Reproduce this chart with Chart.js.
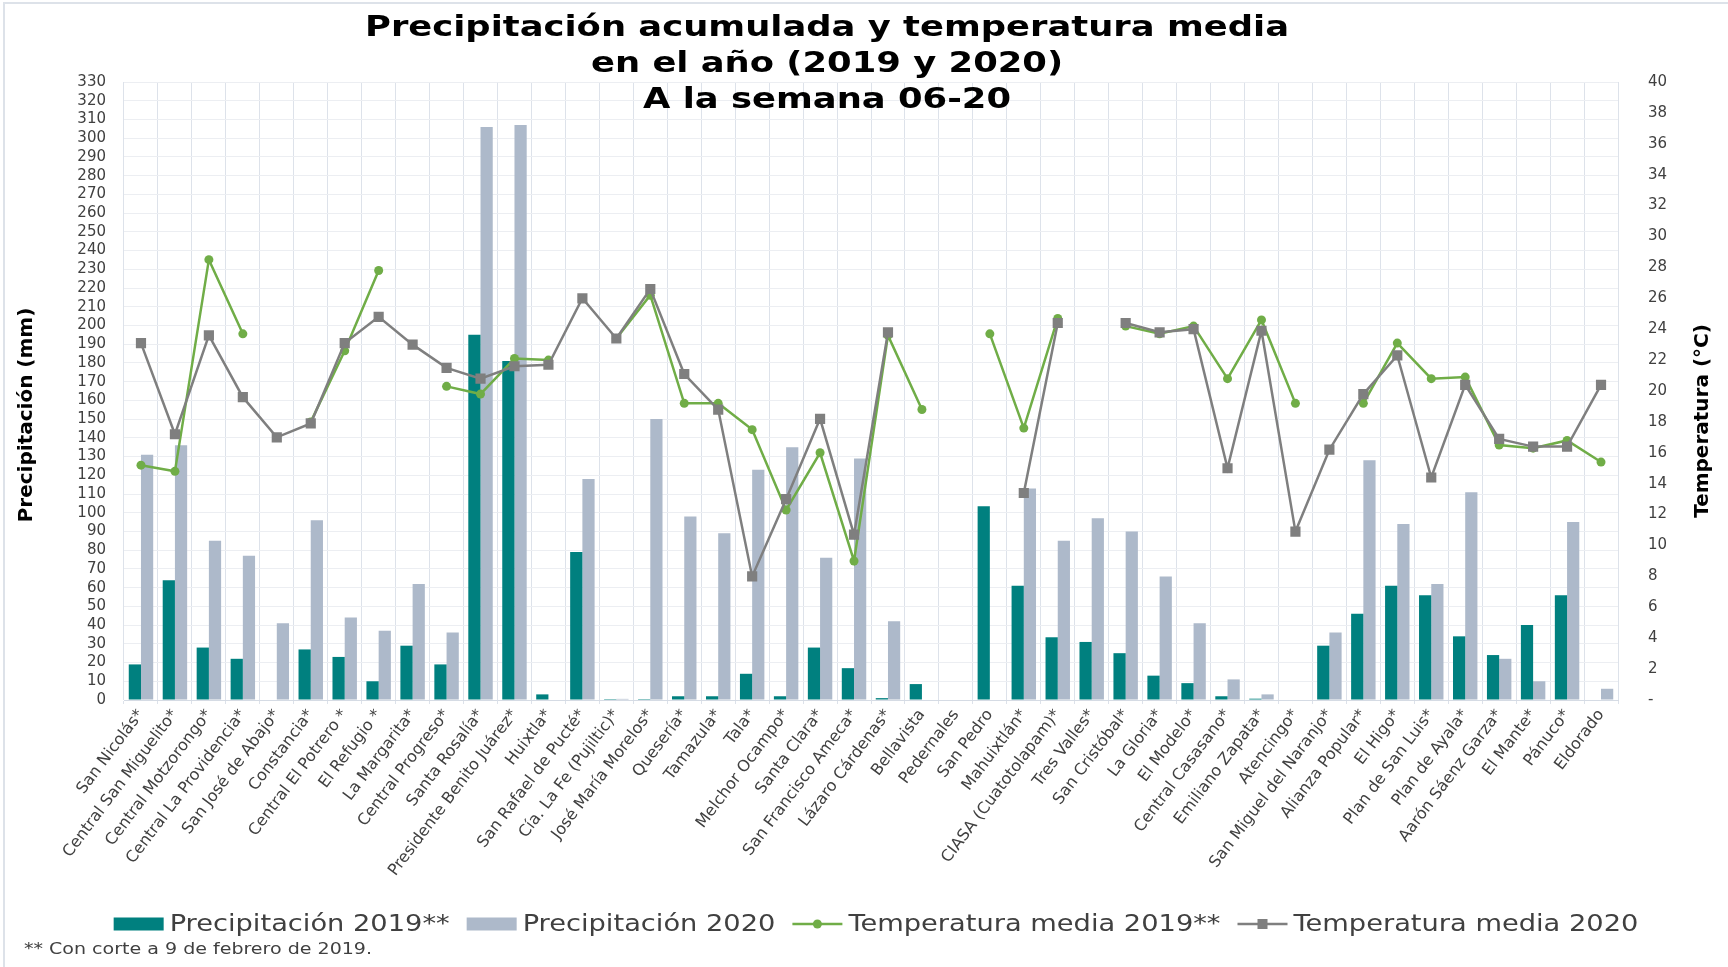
<!DOCTYPE html>
<html>
<head>
<meta charset="utf-8">
<script src="https://cdn.jsdelivr.net/npm/chart.js@4.4.1/dist/chart.umd.min.js"></script>
<style>
html,body{margin:0;padding:0;background:#fff;overflow:hidden}
#wrap{width:1728px;height:967px;position:relative}
canvas{display:block}
</style>
</head>
<body>
<div id="wrap"><canvas id="c" width="1728" height="967"></canvas></div>
<script>
// ---------- DATA ----------
const categories = ['San Nicolás*','Central San Miguelito*','Central Motzorongo*','Central La Providencia*','San José de Abajo*','Constancia*','Central El Potrero *','El Refugio *','La Margarita*','Central Progreso*','Santa Rosalía*','Presidente Benito Juárez*','Huixtla*','San Rafael de Pucté*','Cía. La Fe (Pujiltic)*','José María Morelos*','Quesería*','Tamazula*','Tala*','Melchor Ocampo*','Santa Clara*','San Francisco Ameca*','Lázaro Cárdenas*','Bellavista','Pedernales','San Pedro','Mahuixtlán*','CIASA (Cuatotolapam)*','Tres Valles*','San Cristóbal*','La Gloria*','El Modelo*','Central Casasano*','Emiliano Zapata*','Atencingo*','San Miguel del Naranjo*','Alianza Popular*','El Higo*','Plan de San Luis*','Plan de Ayala*','Aarón Sáenz Garza*','El Mante*','Pánuco*','Eldorado'];

const precip2019 = [19,64,28,22,null,27,23,10,29,19,195,181,3,79,0.5,0.5,2,2,14,2,28,17,1,8.5,null,103.5,61,33.5,31,25,13,9,2,0.7,null,29,46,61,56,34,24,40,56,null];
const precip2020 = [131,136,85,77,41,96,44,37,62,36,306,307,null,118,0.6,150,98,89,123,135,76,129,42,null,null,null,113,85,97,90,66,41,11,3,null,36,128,94,62,111,22,10,95,6];
const temp2019 = [15.2,14.8,28.5,23.7,null,18.0,22.6,27.8,null,20.3,19.8,22.1,22.0,null,23.4,26.2,19.2,19.2,17.5,12.3,16.0,9.0,23.6,18.8,null,23.7,17.6,24.7,null,24.2,23.7,24.2,20.8,24.6,19.2,null,19.2,23.1,20.8,20.9,16.5,16.3,16.8,15.4];
const temp2020 = [23.1,17.2,23.6,19.6,17.0,17.9,23.1,24.8,23.0,21.5,20.8,21.6,21.7,26.0,23.4,26.6,21.1,18.8,8.0,13.0,18.2,10.7,23.8,null,null,null,13.4,24.4,null,24.4,23.8,24.0,15.0,23.9,10.9,16.2,19.8,22.3,14.4,20.4,16.9,16.4,16.4,20.4];

const seriesLabels = ['Precipitación 2019**','Precipitación 2020','Temperatura media 2019**','Temperatura media 2020'];
const precipTicks = {min:0, max:330, step:10};
const tempTicks = {min:0, max:40, step:2};
const titleLines = ['Precipitación acumulada y temperatura media','en el año (2019 y 2020)','A la semana 06-20'];
const leftAxisTitle = 'Precipitación (mm)';
const rightAxisTitle = 'Temperatura (°C)';
const footnote = '** Con corte a 9 de febrero de 2019.';

// ---------- STYLE ----------
const C_TEAL = '#00807f', C_BLUEGRAY = '#adb9ca', C_GREEN = '#70ad47', C_GRAY = '#7f7f7f';
const FONT = '"DejaVu Sans", sans-serif';
const TEXT = '#404040';

function scaledText(ctx, text, x, y, sx) {
  ctx.save(); ctx.translate(x, y); ctx.scale(sx, 1); ctx.fillText(text, 0, 0); ctx.restore();
}

const decor = {
  id: 'decor',
  beforeDraw(chart) {
    const {ctx, width, height} = chart;
    ctx.save();
    ctx.fillStyle = '#fff';
    ctx.fillRect(0, 0, width, height);
    ctx.strokeStyle = '#dde2e9';
    ctx.lineWidth = 2;
    ctx.beginPath();
    ctx.moveTo(4, height); ctx.lineTo(4, 3); ctx.lineTo(width, 3);
    ctx.stroke();
    ctx.restore();
  },
  afterDraw(chart) {
    const ctx = chart.ctx;
    ctx.save();
    // Title
    ctx.fillStyle = '#000';
    ctx.font = 'bold 29px ' + FONT;
    ctx.textAlign = 'center';
    ctx.textBaseline = 'middle';
    const sx = 924 / ctx.measureText(titleLines[0]).width;
    const ty = [28, 64, 100];
    titleLines.forEach((t, i) => scaledText(ctx, t, 827, ty[i], sx));
    // Axis titles
    ctx.font = 'bold 20px ' + FONT;
    ctx.save(); ctx.translate(27, 415); ctx.rotate(-Math.PI / 2); ctx.fillText(leftAxisTitle, 0, 0); ctx.restore();
    ctx.save(); ctx.translate(1703, 421); ctx.rotate(-Math.PI / 2); ctx.fillText(rightAxisTitle, 0, 0); ctx.restore();

    // Legend
    ctx.font = '23px ' + FONT;
    ctx.textAlign = 'left';
    const ds = chart.data.datasets;
    const lsx = 280 / ctx.measureText(ds[0].label).width;
    const boxW = 50, gapT = 6, gapI = 17, ly = 924;
    const widths = ds.map(d => boxW + gapT + ctx.measureText(d.label).width * lsx);
    const total = widths.reduce((a, b) => a + b, 0) + gapI * (ds.length - 1);
    let x = 876 - total / 2;
    ds.forEach((d, i) => {
      if (d.type === 'line') {
        ctx.strokeStyle = d.borderColor; ctx.lineWidth = 2.5;
        ctx.beginPath(); ctx.moveTo(x, ly); ctx.lineTo(x + boxW, ly); ctx.stroke();
        ctx.fillStyle = d.borderColor;
        if (d.pointStyle === 'rect') { ctx.fillRect(x + boxW / 2 - 5, ly - 5, 10, 10); }
        else { ctx.beginPath(); ctx.arc(x + boxW / 2, ly, 4.5, 0, Math.PI * 2); ctx.fill(); }
      } else {
        ctx.fillStyle = d.backgroundColor;
        ctx.fillRect(x, ly - 6.5, boxW, 13);
      }
      ctx.fillStyle = TEXT;
      scaledText(ctx, d.label, x + boxW + gapT, ly + 1, lsx);
      x += widths[i] + gapI;
    });

    // Footnote
    ctx.font = '16px ' + FONT;
    ctx.fillStyle = TEXT;
    const fsx = 348 / ctx.measureText(footnote).width;
    scaledText(ctx, footnote, 24, 950, fsx);
    ctx.restore();
  }
};

new Chart(document.getElementById('c'), {
  type: 'bar',
  data: {
    labels: categories,
    datasets: [
      {type:'bar', label: seriesLabels[0], data: precip2019, backgroundColor: C_TEAL, yAxisID:'y', order: 2, categoryPercentage: 0.72, barPercentage: 1.0},
      {type:'bar', label: seriesLabels[1], data: precip2020, backgroundColor: C_BLUEGRAY, yAxisID:'y', order: 2, categoryPercentage: 0.72, barPercentage: 1.0},
      {type:'line', label: seriesLabels[2], data: temp2019, borderColor: C_GREEN, backgroundColor: C_GREEN, yAxisID:'y1', order: 1,
        borderWidth: 2.5, pointStyle:'circle', pointRadius: 4.5, pointBorderWidth: 0, tension: 0, spanGaps: false},
      {type:'line', label: seriesLabels[3], data: temp2020, borderColor: C_GRAY, backgroundColor: C_GRAY, yAxisID:'y1', order: 0,
        borderWidth: 2.5, pointStyle:'rect', pointRadius: 7.2, pointBorderWidth: 0, tension: 0, spanGaps: false}
    ]
  },
  options: {
    responsive: false,
    animation: false,
    devicePixelRatio: 1,
    layout: {padding: {top: 82, left: 0, right: 0, bottom: 0}},
    plugins: {legend: {display: false}, title: {display: false}, tooltip: {enabled: false}},
    scales: {
      x: {
        offset: true,
        grid: {offset: true, color: '#dde2ea', lineWidth: 1, tickLength: 4, drawTicks: true},
        border: {color: '#d5dbe4'},
        ticks: {autoSkip: false, minRotation: 53, maxRotation: 53, padding: 2, color: TEXT, font: {family: 'DejaVu Sans', size: 16}},
        afterFit: s => { s.height = 267; }
      },
      y: {
        position: 'left', min: precipTicks.min, max: precipTicks.max,
        ticks: {stepSize: precipTicks.step, autoSkip: false, padding: 18, color: TEXT, font: {family: 'DejaVu Sans', size: 15, lineHeight: 1}},
        grid: {color: '#eceef2', drawTicks: false},
        border: {display: false},
        afterFit: s => { s.width = 124; }
      },
      y1: {
        position: 'right', min: tempTicks.min, max: tempTicks.max,
        ticks: {stepSize: tempTicks.step, autoSkip: false, padding: 30, color: TEXT, font: {family: 'DejaVu Sans', size: 15},
          callback: v => (v === 0 ? '-' : v)},
        grid: {display: false, drawTicks: false},
        border: {display: false},
        afterFit: s => { s.width = 110; }
      }
    }
  },
  plugins: [decor]
});
</script>
</body>
</html>
